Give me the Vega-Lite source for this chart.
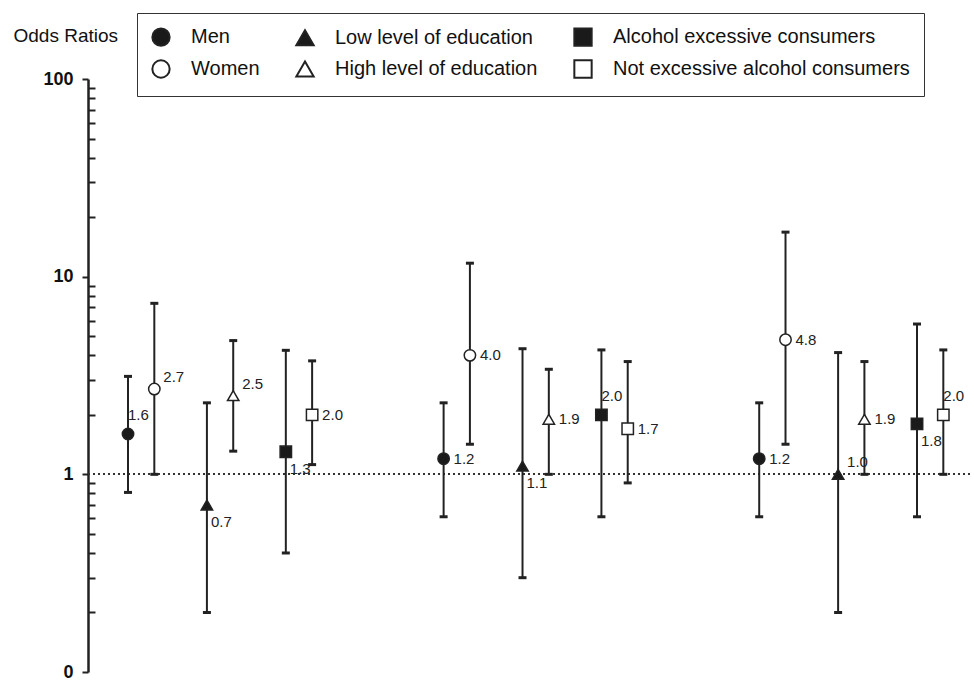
{
  "$schema": "https://vega.github.io/schema/vega-lite/v6.json",
  "width": 882,
  "height": 593,
  "autosize": {"type": "none"},
  "padding": {"left": 88, "top": 79, "right": 4, "bottom": 8},
  "background": "white",
  "config": {"view": {"stroke": null}, "font": "Liberation Sans"},
  "data": {
    "values": [
      {"group": "A", "category": "Men", "or": 1.6, "lower": 0.81, "upper": 3.13},
      {"group": "A", "category": "Women", "or": 2.7, "lower": 1.0, "upper": 7.33},
      {"group": "A", "category": "Low level of education", "or": 0.7, "lower": 0.2, "upper": 2.3},
      {"group": "A", "category": "High level of education", "or": 2.5, "lower": 1.31, "upper": 4.75},
      {"group": "A", "category": "Alcohol excessive consumers", "or": 1.3, "lower": 0.4, "upper": 4.24},
      {"group": "A", "category": "Not excessive alcohol consumers", "or": 2.0, "lower": 1.12, "upper": 3.75},
      {"group": "B", "category": "Men", "or": 1.2, "lower": 0.61, "upper": 2.3},
      {"group": "B", "category": "Women", "or": 4.0, "lower": 1.42, "upper": 11.7},
      {"group": "B", "category": "Low level of education", "or": 1.1, "lower": 0.3, "upper": 4.32},
      {"group": "B", "category": "High level of education", "or": 1.9, "lower": 1.0, "upper": 3.4},
      {"group": "B", "category": "Alcohol excessive consumers", "or": 2.0, "lower": 0.61, "upper": 4.26},
      {"group": "B", "category": "Not excessive alcohol consumers", "or": 1.7, "lower": 0.905, "upper": 3.72},
      {"group": "C", "category": "Men", "or": 1.2, "lower": 0.61, "upper": 2.3},
      {"group": "C", "category": "Women", "or": 4.8, "lower": 1.42, "upper": 16.8},
      {"group": "C", "category": "Low level of education", "or": 1.0, "lower": 0.2, "upper": 4.13},
      {"group": "C", "category": "High level of education", "or": 1.9, "lower": 1.0, "upper": 3.72},
      {"group": "C", "category": "Alcohol excessive consumers", "or": 1.8, "lower": 0.61, "upper": 5.76},
      {"group": "C", "category": "Not excessive alcohol consumers", "or": 2.0, "lower": 1.0, "upper": 4.26}
    ]
  },
  "encoding": {
    "x": {
      "field": "group",
      "type": "nominal",
      "scale": {"domain": ["A", "B", "C"], "paddingInner": 0.3333, "paddingOuter": 0.064, "align": 0.665},
      "axis": null
    },
    "xOffset": {
      "field": "category",
      "type": "nominal",
      "scale": {"domain": ["Men", "Women", "_s1", "Low level of education", "High level of education", "_s2", "Alcohol excessive consumers", "Not excessive alcohol consumers"]}
    },
    "y": {
      "field": "or",
      "type": "quantitative",
      "title": "Odds Ratios",
      "scale": {"type": "log", "domain": [0.1, 100], "nice": false},
      "axis": {
        "values": [0.1, 0.2, 0.3, 0.4, 0.5, 0.6, 0.7, 0.8, 0.9, 1, 2, 3, 4, 5, 6, 7, 8, 9, 10, 20, 30, 40, 50, 60, 70, 80, 90, 100],
        "labelExpr": "datum.value < 0.15 ? '0' : (datum.value == 1 ? '1' : (datum.value == 10 ? '10' : (datum.value == 100 ? '100' : '')))",
        "labelOverlap": false,
        "labelFont": "Liberation Sans",
        "labelFontSize": 18,
        "labelFontWeight": "bold",
        "labelColor": "#111",
        "labelPadding": 9,
        "tickSize": {"condition": {"test": "datum.value < 0.15 || datum.value == 1 || datum.value == 10 || datum.value == 100", "value": 6}, "value": -7},
        "tickWidth": 2,
        "tickColor": "#222",
        "domainColor": "#222",
        "domainWidth": 2.5,
        "grid": false,
        "title": "Odds Ratios",
        "titleAngle": 0,
        "titleAlign": "left",
        "titleBaseline": "middle",
        "titleX": -75,
        "titleY": -44,
        "titleFont": "Liberation Sans",
        "titleFontSize": 19,
        "titleFontWeight": "normal",
        "titleColor": "#111"
      }
    }
  },
  "layer": [
    {
      "mark": {"type": "rule", "strokeDash": [2, 3], "strokeWidth": 1.5, "color": "#333"},
      "encoding": {"x": null, "xOffset": null, "y": {"datum": 1, "type": "quantitative", "title": "Odds Ratios"}}
    },
    {
      "mark": {"type": "rule", "strokeWidth": 2, "color": "#222"},
      "encoding": {
        "y": {"field": "lower", "type": "quantitative", "title": "Odds Ratios"},
        "y2": {"field": "upper"}
      }
    },
    {
      "mark": {"type": "tick", "orient": "horizontal", "size": 8, "thickness": 3, "color": "#222", "opacity": 1},
      "encoding": {"y": {"field": "lower", "type": "quantitative", "title": "Odds Ratios"}}
    },
    {
      "mark": {"type": "tick", "orient": "horizontal", "size": 8, "thickness": 3, "color": "#222", "opacity": 1},
      "encoding": {"y": {"field": "upper", "type": "quantitative", "title": "Odds Ratios"}}
    },
    {
      "mark": {"type": "point", "filled": true, "size": 130, "stroke": "#222", "strokeWidth": 1.5, "opacity": 1},
      "encoding": {
        "shape": {
          "field": "category",
          "type": "nominal",
          "scale": {
            "domain": ["Men", "Women", "Low level of education", "High level of education", "Alcohol excessive consumers", "Not excessive alcohol consumers"],
            "range": ["circle", "circle", "triangle-up", "triangle-up", "square", "square"]
          },
          "legend": {
            "title": null,
            "orient": "none",
            "legendX": 49,
            "legendY": -66,
            "columns": 3,
            "columnPadding": 32,
            "rowPadding": 6,
            "padding": 14,
            "strokeColor": "#333",
            "fillColor": "white",
            "labelFont": "Liberation Sans",
            "labelFontSize": 20,
            "labelColor": "#111",
            "labelOffset": 20,
            "labelLimit": 400,
            "symbolSize": 300,
            "symbolStrokeWidth": 2,
            "symbolStrokeColor": "#222",
            "symbolOpacity": 1,
            "encode": {"symbols": {"update": {"stroke": {"value": "#222"}, "strokeWidth": {"value": 2}}}}
          }
        },
        "fill": {
          "field": "category",
          "type": "nominal",
          "scale": {
            "domain": ["Men", "Women", "Low level of education", "High level of education", "Alcohol excessive consumers", "Not excessive alcohol consumers"],
            "range": ["#1a1a1a", "white", "#1a1a1a", "white", "#1a1a1a", "white"]
          },
          "legend": {
            "title": null,
            "orient": "none",
            "legendX": 49,
            "legendY": -66,
            "columns": 3,
            "columnPadding": 32,
            "rowPadding": 6,
            "padding": 14,
            "strokeColor": "#333",
            "fillColor": "white",
            "labelFont": "Liberation Sans",
            "labelFontSize": 20,
            "labelColor": "#111",
            "labelOffset": 20,
            "labelLimit": 400,
            "symbolSize": 300,
            "symbolStrokeWidth": 2,
            "symbolStrokeColor": "#222",
            "symbolOpacity": 1,
            "encode": {"symbols": {"update": {"stroke": {"value": "#222"}, "strokeWidth": {"value": 2}}}}
          }
        }
      }
    },
    {
      "transform": [{"filter": "!((datum.group == 'A' && (datum.category == 'Men' || datum.category == 'Women' || datum.category == 'High level of education' || datum.category == 'Low level of education' || datum.category == 'Alcohol excessive consumers')) || (datum.group == 'B' && (datum.category == 'Alcohol excessive consumers' || datum.category == 'Low level of education')) || (datum.group == 'C' && (datum.category == 'Low level of education' || datum.category == 'Not excessive alcohol consumers' || datum.category == 'Alcohol excessive consumers')))"}],
      "mark": {"type": "text", "align": "left", "baseline": "middle", "dx": 10, "dy": 0, "font": "Liberation Sans", "fontSize": 15, "color": "#222"},
      "encoding": {"text": {"field": "or", "type": "quantitative", "format": ".1f"}}
    },
    {
      "transform": [{"filter": "(datum.group == 'A' && (datum.category == 'Women' || datum.category == 'High level of education')) || (datum.group == 'C' && datum.category == 'Low level of education')"}],
      "mark": {"type": "text", "align": "left", "baseline": "middle", "dx": 9, "dy": -12, "font": "Liberation Sans", "fontSize": 15, "color": "#222"},
      "encoding": {"text": {"field": "or", "type": "quantitative", "format": ".1f"}}
    },
    {
      "transform": [{"filter": "(datum.group == 'A' && datum.category == 'Men') || (datum.group == 'B' && datum.category == 'Alcohol excessive consumers') || (datum.group == 'C' && datum.category == 'Not excessive alcohol consumers')"}],
      "mark": {"type": "text", "align": "left", "baseline": "middle", "dx": 0, "dy": -19, "font": "Liberation Sans", "fontSize": 15, "color": "#222"},
      "encoding": {"text": {"field": "or", "type": "quantitative", "format": ".1f"}}
    },
    {
      "transform": [{"filter": "(datum.group == 'A' && (datum.category == 'Low level of education' || datum.category == 'Alcohol excessive consumers')) || (datum.group == 'B' && datum.category == 'Low level of education') || (datum.group == 'C' && datum.category == 'Alcohol excessive consumers')"}],
      "mark": {"type": "text", "align": "left", "baseline": "middle", "dx": 4, "dy": 17, "font": "Liberation Sans", "fontSize": 15, "color": "#222"},
      "encoding": {"text": {"field": "or", "type": "quantitative", "format": ".1f"}}
    }
  ]
}
